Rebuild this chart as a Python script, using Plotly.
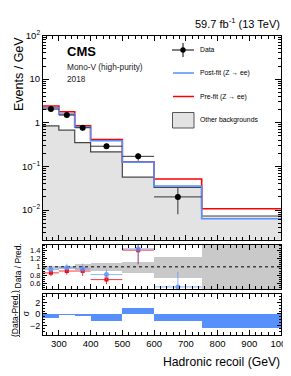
import plotly.graph_objects as go

# ---------------- data ----------------
edges = [250, 300, 350, 400, 500, 600, 750, 1000]
data_y = [2.06, 1.50, 0.77, 0.29, 0.17, 0.020]
data_up = [0.20, 0.17, 0.12, 0.045, 0.030, 0.012]
data_dn = [0.20, 0.17, 0.12, 0.040, 0.035, 0.012]
postfit = [2.21, 1.58, 0.80, 0.386, 0.125, 0.0355, 0.0063]
prefit = [2.42, 1.79, 0.85, 0.41, 0.127, 0.0516, 0.0107]
other_bkg = [0.85, 0.68, 0.35, 0.215, 0.057, 0.033, 0.0073]

ratio_post = [0.935, 0.976, 0.95, 0.815, 1.43, 0.52]
ratio_post_err = [0.095, 0.10, 0.13, 0.13, 0.36, 0.36]
ratio_pre = [0.856, 0.90, 0.90, 0.695, 1.40, None]
ratio_pre_err = [0.08, 0.09, 0.12, 0.11, 0.34, None]
band_lo = [0.96, 0.96, 0.93, 0.91, 0.86, 0.74, 0.0]
band_hi = [1.04, 1.04, 1.07, 1.10, 1.14, 1.24, 2.0]

pulls = [-0.7, -0.1, -0.3, -1.2, 1.15, -1.2, -2.45]

main_tickvals = [0.01, 0.1, 1, 10, 100]
main_ticktext = ["10<sup>−2</sup>", "10<sup>−1</sup>", "1", "10", "10<sup>2</sup>"]
ratio_tickvals = [0.6, 0.8, 1.0, 1.2, 1.4]
ratio_ticktext = ["0.6", "0.8", "1", "1.2", "1.4"]
pull_tickvals = [-2, 0, 2]
pull_ticktext = ["−2", "0", "2"]
x_tickvals = [300, 400, 500, 600, 700, 800, 900, 1000]

# ---------------- derived ----------------
centers = [(edges[i] + edges[i + 1]) / 2 for i in range(len(edges) - 1)]
widths = [edges[i + 1] - edges[i] for i in range(len(edges) - 1)]
half = [w / 2 for w in widths]
nd = len(data_y)

BLUE = "#5790fc"
RED = "#ff0000"
FONT = "Liberation Sans"
W, H = 291, 376


def px_x(p):
    return p / W


def px_y(p):
    return 1 - p / H


def step(vals):
    return list(edges), list(vals) + [vals[-1]]


fig = go.Figure()

# main panel: other backgrounds (filled bars + outline)
fig.add_trace(go.Bar(x=centers, y=other_bkg, width=widths, marker=dict(color="#e3e3e3", line=dict(width=0)),
                     xaxis="x", yaxis="y", showlegend=False))
sx, sy = step(other_bkg)
fig.add_trace(go.Scatter(x=sx, y=sy, mode="lines", line=dict(shape="hv", color="#454545", width=1.2),
                         xaxis="x", yaxis="y", showlegend=False))
sx, sy = step(prefit)
fig.add_trace(go.Scatter(x=sx, y=sy, mode="lines", line=dict(shape="hv", color=RED, width=1.6),
                         xaxis="x", yaxis="y", showlegend=False))
sx, sy = step(postfit)
fig.add_trace(go.Scatter(x=sx, y=sy, mode="lines", line=dict(shape="hv", color=BLUE, width=1.6),
                         xaxis="x", yaxis="y", showlegend=False))
fig.add_trace(go.Scatter(x=centers[:nd], y=data_y, mode="markers",
                         marker=dict(color="black", size=6),
                         error_x=dict(type="data", array=half[:nd], color="#333333", thickness=1, width=0),
                         error_y=dict(type="data", symmetric=False, array=data_up, arrayminus=data_dn,
                                      color="#333333", thickness=1, width=0),
                         xaxis="x", yaxis="y", showlegend=False))

# ratio panel
fig.add_trace(go.Bar(x=centers, y=[h - l for h, l in zip(band_hi, band_lo)], base=band_lo, width=widths,
                     marker=dict(color="#c9c9c9", line=dict(width=0)), xaxis="x2", yaxis="y2", showlegend=False))
fig.add_trace(go.Scatter(x=[edges[0], edges[-1]], y=[1, 1], mode="lines",
                         line=dict(color="black", width=1, dash="dot"), xaxis="x2", yaxis="y2", showlegend=False))
fig.add_trace(go.Scatter(x=centers[:nd], y=ratio_pre, mode="markers",
                         marker=dict(color=RED, size=4, symbol="square"),
                         error_x=dict(type="data", array=half[:nd], color=RED, thickness=0.8, width=0),
                         error_y=dict(type="data", array=[e if e is not None else 0 for e in ratio_pre_err],
                                      color=RED, thickness=0.8, width=0),
                         xaxis="x2", yaxis="y2", showlegend=False))
fig.add_trace(go.Scatter(x=centers[:nd], y=ratio_post, mode="markers",
                         marker=dict(color=BLUE, size=5),
                         error_x=dict(type="data", array=half[:nd], color=BLUE, thickness=0.8, width=0),
                         error_y=dict(type="data", array=ratio_post_err, color=BLUE, thickness=0.8, width=0),
                         opacity=0.85, xaxis="x2", yaxis="y2", showlegend=False))

# pull panel
fig.add_trace(go.Bar(x=centers, y=pulls, width=widths, marker=dict(color=BLUE, line=dict(width=0)),
                     xaxis="x3", yaxis="y3", showlegend=False))

# ---------------- layout ----------------
xdom = [px_x(35), px_x(273)]
axis_common = dict(showline=True, linecolor="black", linewidth=1, mirror="ticks", ticks="inside",
                   tickcolor="black", showgrid=False, zeroline=False, automargin=False)
xcommon = dict(axis_common, range=[edges[0], edges[-1]], domain=xdom, tickvals=x_tickvals, ticklen=5,
               minor=dict(ticks="inside", dtick=20, ticklen=3, tickcolor="black", showgrid=False))

fig.update_layout(
    width=W, height=H, margin=dict(l=0, r=0, t=0, b=0), paper_bgcolor="white", plot_bgcolor="white",
    font=dict(family=FONT, color="black"), bargap=0, barmode="overlay", showlegend=False,
    xaxis=dict(xcommon, anchor="y", showticklabels=False),
    xaxis2=dict(xcommon, anchor="y2", matches="x", showticklabels=False),
    xaxis3=dict(xcommon, anchor="y3", matches="x", showticklabels=True, tickfont=dict(size=9.5),
                title=dict(text="", font=dict(size=12))),
    yaxis=dict(axis_common, type="log", range=[-2.68, 2], domain=[px_y(231.7), px_y(27.5)],
               tickvals=main_tickvals, ticktext=main_ticktext, ticklen=6, tickfont=dict(size=9.5),
               minor=dict(ticks="inside", dtick="D1", ticklen=3, tickcolor="black", showgrid=False)),
    yaxis2=dict(axis_common, range=[0.47, 1.535], domain=[px_y(281), px_y(236.5)],
                tickvals=ratio_tickvals, ticktext=ratio_ticktext, ticklen=4, tickfont=dict(size=7.5),
                minor=dict(ticks="inside", dtick=0.05, ticklen=2, tickcolor="black", showgrid=False)),
    yaxis3=dict(axis_common, range=[-3.6, 3.5], domain=[px_y(326.7), px_y(285.7)],
                tickvals=pull_tickvals, ticktext=pull_ticktext, ticklen=4, tickfont=dict(size=9),
                minor=dict(ticks="inside", dtick=0.5, ticklen=2, tickcolor="black", showgrid=False)),
)

ann = []
ann.append(dict(text="59.7 fb<sup>-1</sup> (13 TeV)", x=px_x(274), y=px_y(15), xanchor="right", yanchor="middle",
                font=dict(size=11)))
ann.append(dict(text="<b>CMS</b>", x=px_x(57), y=px_y(43), xanchor="left", yanchor="middle", font=dict(size=13)))
ann.append(dict(text="Mono-V (high-purity)", x=px_x(57), y=px_y(59), xanchor="left", yanchor="middle",
                font=dict(size=8.3, color="#222")))
ann.append(dict(text="2018", x=px_x(57), y=px_y(71.5), xanchor="left", yanchor="middle",
                font=dict(size=8.3, color="#222")))
ann.append(dict(text="Events / GeV", x=px_x(11), y=px_y(27), xanchor="center", yanchor="top", textangle=-90,
                font=dict(size=12.5)))
ann.append(dict(text="Data / Pred.", x=px_x(9), y=px_y(234), xanchor="center", yanchor="top", textangle=-90,
                font=dict(size=8.5)))
ann.append(dict(text="<u>(Data-Pred.)</u><br>σ", x=px_x(12), y=px_y(306), xanchor="center", yanchor="middle",
                textangle=-90, font=dict(size=8.5)))
ann.append(dict(text="Hadronic recoil (GeV)", x=px_x(274), y=px_y(354), xanchor="right", yanchor="middle",
                font=dict(size=12.2)))
# legend text
leg_y = [42, 65, 88.5, 112]
leg_txt = ["Data", "Post-fit (Z → ee)", "Pre-fit (Z → ee)", "Other backgrounds"]
for ty, tt in zip(leg_y, leg_txt):
    ann.append(dict(text=tt, x=px_x(190), y=px_y(ty), xanchor="left", yanchor="middle", font=dict(size=6.8)))
for a in ann:
    a.update(xref="paper", yref="paper", showarrow=False)
fig.update_layout(annotations=ann)

shapes = [
    dict(type="line", x0=px_x(164), x1=px_x(186), y0=px_y(42), y1=px_y(42), line=dict(color="black", width=1)),
    dict(type="line", x0=px_x(175), x1=px_x(175), y0=px_y(35), y1=px_y(49), line=dict(color="black", width=1)),
    dict(type="circle", x0=px_x(172.3), x1=px_x(177.7), y0=px_y(44.7), y1=px_y(39.3),
         fillcolor="black", line=dict(color="black", width=0)),
    dict(type="line", x0=px_x(165), x1=px_x(186), y0=px_y(65), y1=px_y(65), line=dict(color=BLUE, width=1.5)),
    dict(type="line", x0=px_x(165), x1=px_x(186), y0=px_y(88.5), y1=px_y(88.5), line=dict(color=RED, width=1.5)),
    dict(type="rect", x0=px_x(164.5), x1=px_x(186), y0=px_y(120), y1=px_y(104.5), fillcolor="#e3e3e3",
         line=dict(color="#555555", width=1)),
]
for s in shapes:
    s.update(xref="paper", yref="paper")
fig.update_layout(shapes=shapes)

fig.write_html("out.html")
